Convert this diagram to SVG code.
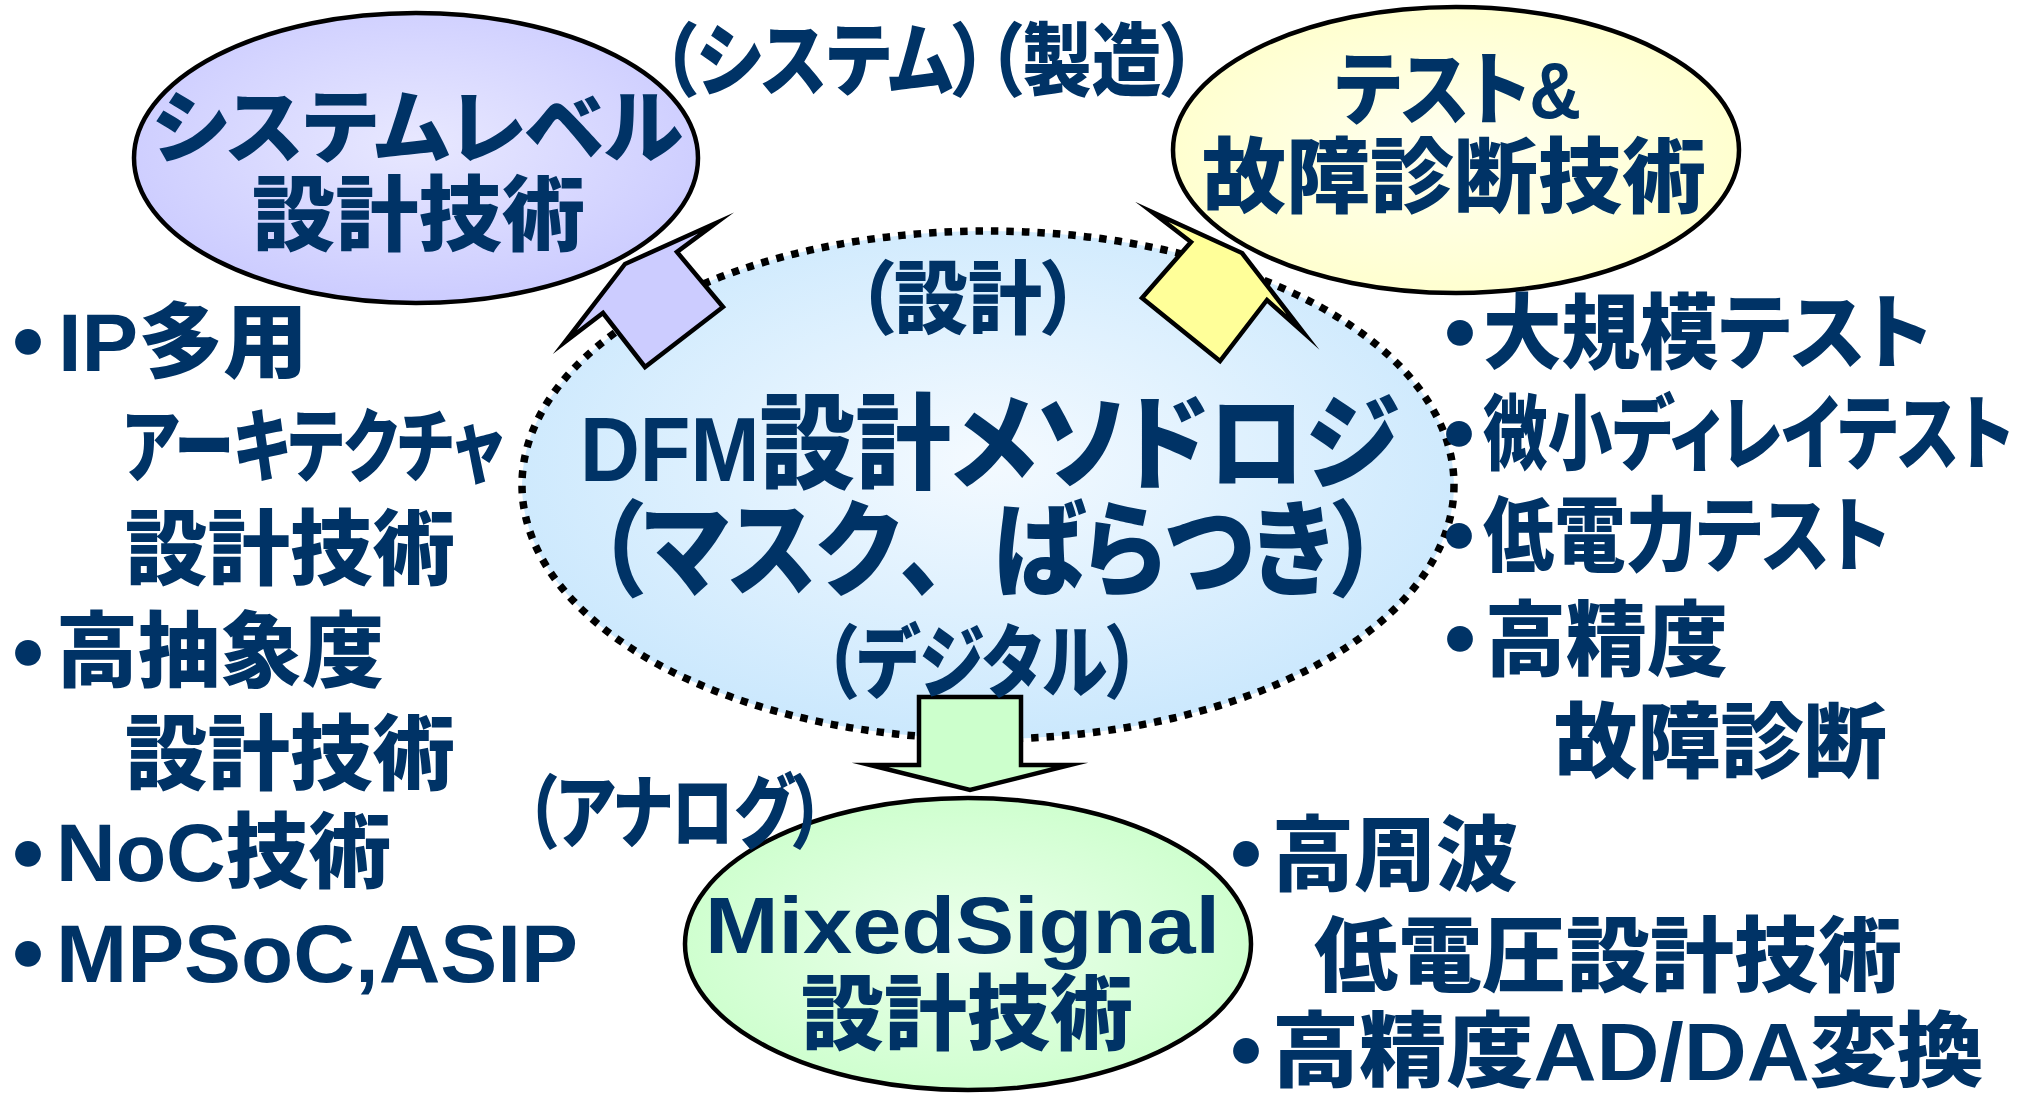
<svg xmlns="http://www.w3.org/2000/svg" width="2022" height="1093" viewBox="0 0 2022 1093">
<defs>
  <radialGradient id="gBlue" cx="0.5" cy="0.45" r="0.55">
    <stop offset="0" stop-color="#F4FAFF"/>
    <stop offset="1" stop-color="#CBE8FD"/>
  </radialGradient>
  <radialGradient id="gPurple" cx="0.5" cy="0.45" r="0.55">
    <stop offset="0" stop-color="#E8E8FF"/>
    <stop offset="1" stop-color="#CCCCFF"/>
  </radialGradient>
  <radialGradient id="gYellow" cx="0.5" cy="0.5" r="0.55">
    <stop offset="0" stop-color="#FFFFF2"/>
    <stop offset="1" stop-color="#FFFFCC"/>
  </radialGradient>
  <radialGradient id="gGreen" cx="0.5" cy="0.5" r="0.55">
    <stop offset="0" stop-color="#ECFFEC"/>
    <stop offset="1" stop-color="#CCFFCC"/>
  </radialGradient>
</defs>
<style>
  .t{font-family:"Liberation Sans","Noto Sans CJK JP",sans-serif;font-weight:900;fill:#003366;font-feature-settings:"palt" 1;}
  .fw{font-feature-settings:normal;}
  .bl{font-family:"Noto Sans CJK JP",sans-serif;font-size:92px;}
  .el{stroke:#000;stroke-width:4.5;}
  .dotted{fill:url(#gBlue);stroke:#000;stroke-width:7.5;stroke-dasharray:7.5 8;}
  .arrow{stroke:#000;stroke-width:4.5;stroke-linejoin:miter;stroke-miterlimit:20;}
</style>
<rect width="2022" height="1093" fill="#FFFFFF"/>

<g id="node-dfm">
  <ellipse cx="988" cy="485" rx="466" ry="254" class="dotted"/>
  <text class="t" x="580" y="481" font-size="104" textLength="819" lengthAdjust="spacingAndGlyphs"><tspan font-size="90">DFM</tspan>設計メソドロジ</text>
  <text class="t" x="597" y="588" font-size="104" textLength="782" lengthAdjust="spacingAndGlyphs">（マスク<tspan class="fw">、</tspan>ばらつき）</text>
</g>

<g id="node-system">
  <ellipse cx="416" cy="158" rx="282" ry="145" class="el" fill="url(#gPurple)"/>
  <text class="t" x="152" y="156" font-size="80" textLength="531" lengthAdjust="spacingAndGlyphs">システムレベル</text>
  <text class="t" x="252" y="244" font-size="82" textLength="333" lengthAdjust="spacingAndGlyphs">設計技術</text>
</g>

<g id="node-test">
  <ellipse cx="1456" cy="150" rx="283" ry="143" class="el" fill="url(#gYellow)"/>
  <text class="t" x="1335" y="118" font-size="80" textLength="246" lengthAdjust="spacingAndGlyphs">テスト&amp;</text>
  <text class="t" x="1202" y="206" font-size="82" textLength="504" lengthAdjust="spacingAndGlyphs">故障診断技術</text>
</g>

<g id="node-mixed">
  <ellipse cx="968" cy="944" rx="283" ry="146" class="el" fill="url(#gGreen)"/>
  <text class="t" x="705" y="953" font-size="80" textLength="515" lengthAdjust="spacingAndGlyphs">MixedSignal</text>
  <text class="t" x="801" y="1043" font-size="82" textLength="332" lengthAdjust="spacingAndGlyphs">設計技術</text>
</g>

<g id="connectors">
  <polygon class="arrow" fill="#CCCCFF" points="625,264 716,223 677,252 723,307 645,367 603,313 565,342"/>
  <polygon class="arrow" fill="#FFFF99" points="1242,253 1303,332 1267,300 1220,361 1142,298 1191,242 1152,212"/>
  <polygon class="arrow" fill="#CCFFCC" points="919,697 1021,697 1021,765 1070,765 970,790 870,765 919,765"/>
</g>

<g id="labels">
  <text class="t" x="662" y="89" font-size="80" textLength="534" lengthAdjust="spacingAndGlyphs">（システム）（製造）</text>
  <text class="t" x="857" y="327" font-size="80" textLength="222" lengthAdjust="spacingAndGlyphs">（設計）</text>
  <text class="t" x="824" y="691" font-size="80" textLength="316" lengthAdjust="spacingAndGlyphs">（デジタル）</text>
  <text class="t" x="526" y="841" font-size="80" textLength="298" lengthAdjust="spacingAndGlyphs">（アナログ）</text>
</g>

<g id="list-system">
  <text class="t" font-size="82"><tspan class="bl" x="5" y="377">・</tspan><tspan x="58" y="371" textLength="250" lengthAdjust="spacingAndGlyphs">IP多用</tspan></text>
  <text class="t" x="123" y="475" font-size="80" textLength="381" lengthAdjust="spacingAndGlyphs">アーキテクチャ</text>
  <text class="t" x="125" y="578" font-size="82" textLength="330" lengthAdjust="spacingAndGlyphs">設計技術</text>
  <text class="t" font-size="82"><tspan class="bl" x="5" y="688">・</tspan><tspan x="56" y="680" textLength="328" lengthAdjust="spacingAndGlyphs">高抽象度</tspan></text>
  <text class="t" x="125" y="783" font-size="82" textLength="330" lengthAdjust="spacingAndGlyphs">設計技術</text>
  <text class="t" font-size="82"><tspan class="bl" x="5" y="889">・</tspan><tspan x="56" y="881" textLength="335" lengthAdjust="spacingAndGlyphs">NoC技術</tspan></text>
  <text class="t" font-size="82"><tspan class="bl" x="5" y="989">・</tspan><tspan x="56" y="982" font-size="81" textLength="522" lengthAdjust="spacingAndGlyphs">MPSoC,ASIP</tspan></text>
</g>

<g id="list-test">
  <text class="t" font-size="82"><tspan class="bl" x="1437" y="368">・</tspan><tspan x="1483" y="362" textLength="448" lengthAdjust="spacingAndGlyphs">大規模テスト</tspan></text>
  <text class="t" font-size="82"><tspan class="bl" x="1436" y="469">・</tspan><tspan x="1483" y="463" textLength="530" lengthAdjust="spacingAndGlyphs">微小ディレイテスト</tspan></text>
  <text class="t" font-size="82"><tspan class="bl" x="1436" y="571">・</tspan><tspan x="1483" y="565" textLength="406" lengthAdjust="spacingAndGlyphs">低電力テスト</tspan></text>
  <text class="t" font-size="82"><tspan class="bl" x="1437" y="674">・</tspan><tspan x="1485" y="669" textLength="243" lengthAdjust="spacingAndGlyphs">高精度</tspan></text>
  <text class="t" x="1554" y="771" font-size="82" textLength="333" lengthAdjust="spacingAndGlyphs">故障診断</text>
</g>

<g id="list-mixed">
  <text class="t" font-size="82"><tspan class="bl" x="1223" y="889">・</tspan><tspan x="1272" y="884" textLength="246" lengthAdjust="spacingAndGlyphs">高周波</tspan></text>
  <text class="t" x="1314" y="985" font-size="82" textLength="588" lengthAdjust="spacingAndGlyphs">低電圧設計技術</text>
  <text class="t" font-size="82"><tspan class="bl" x="1223" y="1086">・</tspan><tspan x="1272" y="1080" textLength="712" lengthAdjust="spacingAndGlyphs">高精度AD/DA変換</tspan></text>
</g>
</svg>
